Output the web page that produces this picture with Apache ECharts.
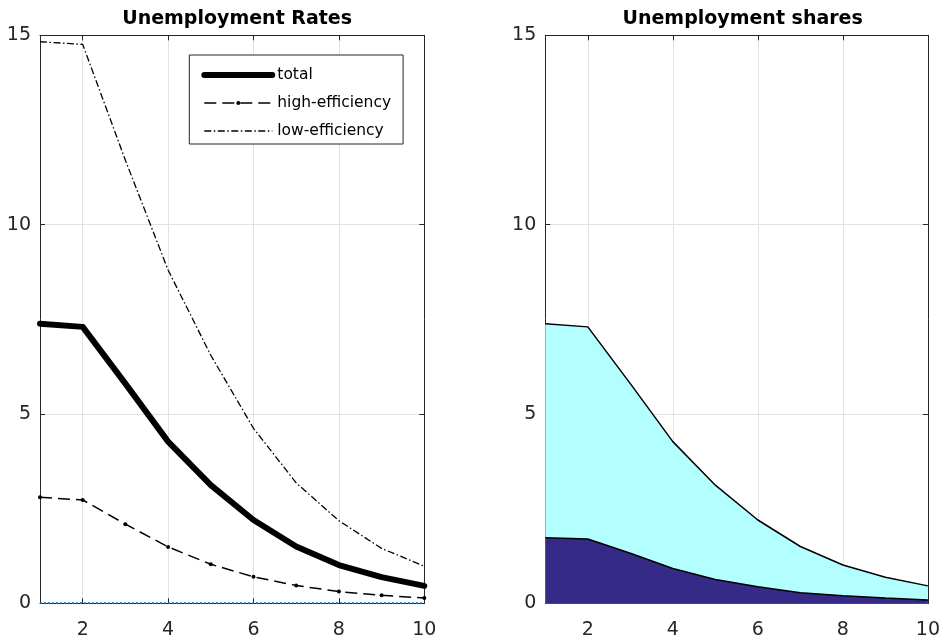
<!DOCTYPE html>
<html>
<head>
<meta charset="utf-8">
<title>Unemployment</title>
<script src="https://cdn.jsdelivr.net/npm/echarts@6/dist/echarts.min.js"></script>
<style>
  html, body { margin: 0; padding: 0; background: #ffffff; }
  #chart { width: 943px; height: 643px; }
</style>
</head>
<body>
<div id="chart"></div>
<script>
// Periods on the horizontal axis
const periods = [1, 2, 3, 4, 5, 6, 7, 8, 9, 10];

// Unemployment rates (%) by worker type
const totalRate = [7.38, 7.30, 5.80, 4.27, 3.12, 2.20, 1.50, 1.01, 0.69, 0.46];
const highRate  = [2.80, 2.73, 2.09, 1.49, 1.03, 0.70, 0.47, 0.31, 0.21, 0.14];
const lowRate   = [14.83, 14.76, 11.70, 8.80, 6.55, 4.62, 3.18, 2.18, 1.45, 0.98];
const zeroLine  = [0, 0, 0, 0, 0, 0, 0, 0, 0, 0];

// Contribution of high-efficiency workers to total unemployment
const highShare = [1.73, 1.70, 1.32, 0.92, 0.63, 0.44, 0.28, 0.20, 0.14, 0.09];

const seriesNames = ['total', 'high-efficiency', 'low-efficiency'];
const titles = ['Unemployment Rates', 'Unemployment shares'];
const yTicks = { min: 0, max: 15, interval: 5 };

const pairs = (ys) => periods.map((x, i) => [x, ys[i]]);

const FONT = 'DejaVu Sans';
const AXIS_COLOR = '#262626';
const GRID_COLOR = '#e2e2e2';

const grids = [
  { left: 40, top: 35.3, width: 384.3, height: 568 },
  { left: 545.3, top: 35.3, width: 384.7, height: 568 }
];

function xAxes(gridIndex) {
  const base = {
    type: 'value', gridIndex, min: 1, max: 10, splitNumber: 5,
    axisLine: { show: true, onZero: false, lineStyle: { color: AXIS_COLOR, width: 1 } },
    axisTick: { show: true, inside: true, length: 5, lineStyle: { color: AXIS_COLOR } }
  };
  return [
    Object.assign({}, base, {
      position: 'bottom',
      axisLabel: { show: true, showMinLabel: false, margin: 17, color: AXIS_COLOR,
                   fontFamily: FONT, fontSize: 19 },
      splitLine: { show: true, lineStyle: { color: GRID_COLOR, width: 1 } }
    }),
    Object.assign({}, base, {
      position: 'top',
      axisLabel: { show: false },
      splitLine: { show: false }
    })
  ];
}

function yAxes(gridIndex) {
  const base = {
    type: 'value', gridIndex, min: yTicks.min, max: yTicks.max, interval: yTicks.interval,
    axisLine: { show: true, onZero: false, lineStyle: { color: AXIS_COLOR, width: 1 } },
    axisTick: { show: true, inside: true, length: 5, lineStyle: { color: AXIS_COLOR } }
  };
  return [
    Object.assign({}, base, {
      position: 'left',
      axisLabel: { show: true, margin: 9, color: AXIS_COLOR, fontFamily: FONT, fontSize: 19 },
      splitLine: { show: true, lineStyle: { color: GRID_COLOR, width: 1 } }
    }),
    Object.assign({}, base, {
      position: 'right',
      axisLabel: { show: false },
      splitLine: { show: false }
    })
  ];
}

// Legend entries: only the dotted-marker series keeps its symbol in the key
const legendData = seriesNames.map((name) =>
  name === 'high-efficiency' ? { name } : { name, itemStyle: { opacity: 0 } }
);

const option = {
  backgroundColor: '#ffffff',
  animation: false,
  title: titles.map((t, i) => ({
    text: t,
    left: grids[i].left + grids[i].width / 2,
    textAlign: 'center',
    top: 5,
    textStyle: { fontFamily: FONT, fontSize: 19, fontWeight: 'bold', color: '#000000' }
  })),
  grid: grids,
  xAxis: [...xAxes(0), ...xAxes(1)],
  yAxis: [...yAxes(0), ...yAxes(1)],
  legend: {
    data: legendData,
    orient: 'vertical',
    left: 189.3,
    top: 55,
    padding: [12, 12, 5, 12],
    itemGap: 12,
    itemWidth: 68,
    itemHeight: 5,
    backgroundColor: '#ffffff',
    borderColor: AXIS_COLOR,
    borderWidth: 1,
    borderRadius: 0,
    lineStyle: { width: 'inherit', type: 'inherit', cap: 'inherit' },
    textStyle: { fontFamily: FONT, fontSize: 15.5, color: '#000000' },
    selectedMode: false
  },
  series: [
    {
      name: 'zero', type: 'line', xAxisIndex: 0, yAxisIndex: 0,
      data: pairs(zeroLine), symbol: 'none', z: 1,
      itemStyle: { color: '#0072BD' },
      lineStyle: { color: '#0072BD', width: 2, type: [2, 2] }
    },
    {
      name: 'total', type: 'line', xAxisIndex: 0, yAxisIndex: 0,
      data: pairs(totalRate), symbol: 'none',
      itemStyle: { color: '#000000' },
      lineStyle: { color: '#000000', width: 6, cap: 'round', join: 'round' }
    },
    {
      name: 'high-efficiency', type: 'line', xAxisIndex: 0, yAxisIndex: 0,
      data: pairs(highRate), symbol: 'circle', symbolSize: 4,
      itemStyle: { color: '#000000' },
      lineStyle: { color: '#000000', width: 1.5, type: [12, 6] }
    },
    {
      name: 'low-efficiency', type: 'line', xAxisIndex: 0, yAxisIndex: 0,
      data: pairs(lowRate), symbol: 'none',
      itemStyle: { color: '#000000' },
      lineStyle: { color: '#000000', width: 1.3, type: [7, 2.5, 1.5, 2.5] }
    },
    {
      name: 'share-total', type: 'line', xAxisIndex: 2, yAxisIndex: 2,
      data: pairs(totalRate), symbol: 'none',
      lineStyle: { color: '#000000', width: 1.5 },
      areaStyle: { color: '#b3ffff', opacity: 1 }
    },
    {
      name: 'share-high', type: 'line', xAxisIndex: 2, yAxisIndex: 2,
      data: pairs(highShare), symbol: 'none',
      lineStyle: { color: '#000000', width: 1.5 },
      areaStyle: { color: '#352a87', opacity: 1 }
    }
  ]
};

const chart = echarts.init(document.getElementById('chart'), null, { renderer: 'canvas' });
chart.setOption(option);
</script>
</body>
</html>
